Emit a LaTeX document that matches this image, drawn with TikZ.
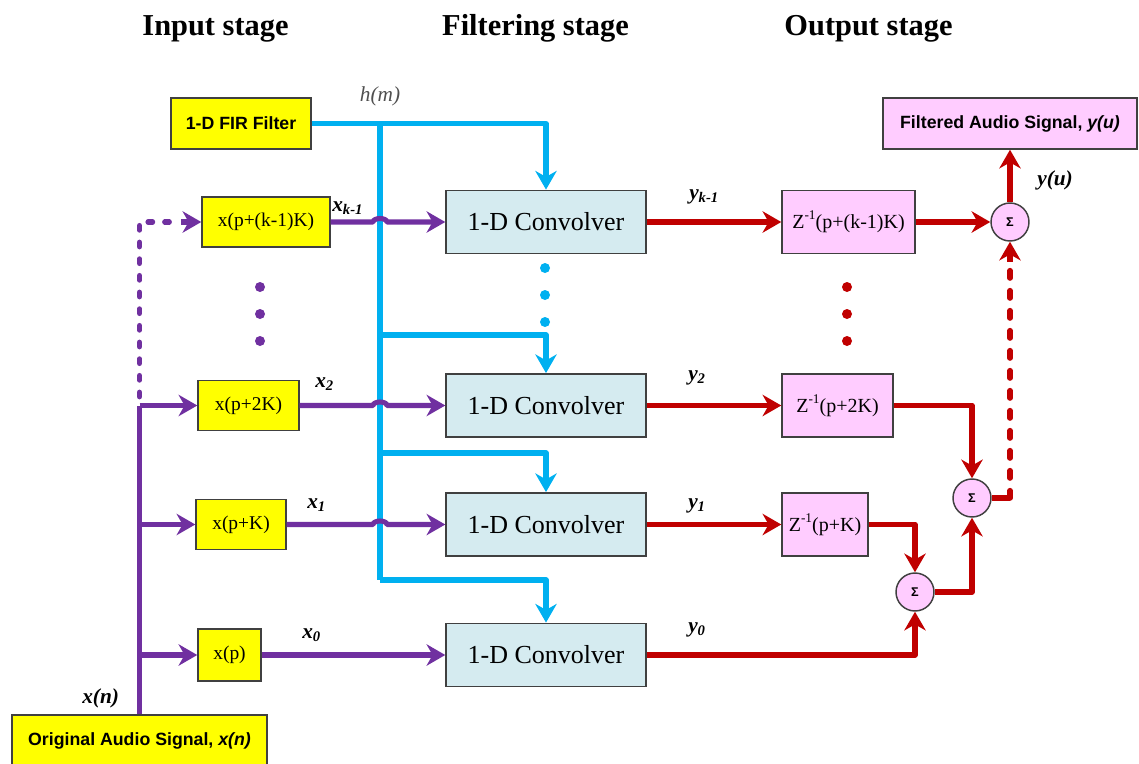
\documentclass[tikz,border=0pt]{standalone}
\usepackage{fontspec}
\setmainfont{Liberation Serif}
\setsansfont{Liberation Sans}
\usetikzlibrary{arrows.meta}

\definecolor{boxyellow}{HTML}{FFFF00}
\definecolor{convblue}{HTML}{D5EBF0}
\definecolor{zpink}{HTML}{FFCCFF}
\definecolor{hblue}{HTML}{00B0F0}
\definecolor{xpurple}{HTML}{7030A0}
\definecolor{yred}{HTML}{C00000}
\definecolor{edge}{HTML}{404040}
\definecolor{hgray}{HTML}{505050}

\newcommand{\fs}[1]{\fontsize{#1pt}{#1pt}\selectfont}
\newcommand{\lowtext}[1]{\raisebox{-0.35ex}{\fs{11}#1}}
\newcommand{\hightext}[1]{\raisebox{1.0ex}{\fs{10}#1}}

\begin{document}
\begin{tikzpicture}[x=0.75pt,y=-0.75pt,
  box/.style={draw=edge, line width=1.1pt, inner sep=0pt, align=center},
  ybox/.style={box, fill=boxyellow},
  cbox/.style={box, fill=convblue, minimum width=150pt, minimum height=47.5pt, font=\fs{19.5}},
  zbox/.style={box, fill=zpink, minimum height=47.5pt, font=\fs{15}},
  inbox/.style={ybox, minimum height=37.5pt, font=\fs{14.6}},
  sumnode/.style={circle, draw=edge, line width=1.1pt, fill=zpink, minimum size=28.5pt, inner sep=0pt, font=\sffamily\bfseries\fs{9.5}},
  title/.style={font=\bfseries\fs{22.8}, anchor=base},
  lbl/.style={font=\bfseries\itshape\fs{16}, anchor=base west, inner sep=0pt},
  tip/.style={-{Stealth[length=14pt, width=16pt, inset=4.5pt]}},
  hline/.style={draw=hblue, line width=3.8pt, line join=round},
  pline/.style={draw=xpurple, line width=3.8pt, line join=round},
  rline/.style={draw=yred, line width=4.2pt, line join=round},
  pdashline/.style={dash pattern=on 3.5pt off 9pt, line cap=round},
  rdashline/.style={dash pattern=on 5.5pt off 9.5pt, line cap=round},
  dotnode/.style={circle, inner sep=0pt, minimum size=7.5pt}
]
\useasboundingbox (0,0) rectangle (1139,764);

% stage headings
\node[title] (tin)  at (215.5,35) {Input stage};
\node[title] (tflt) at (535.5,35) {Filtering stage};
\node[title] (tout) at (868.5,35) {Output stage};

% input stage boxes
\node[ybox, minimum width=105pt, minimum height=38.25pt, font=\sffamily\bfseries\fs{13.3}] (fir) at (241,123.5) {1-D FIR Filter};
\node[inbox, minimum width=96pt]    (inK) at (266,222)   {x(p+(k-1)K)};
\node[inbox, minimum width=75.75pt] (in2) at (248.5,405.5) {x(p+2K)};
\node[inbox, minimum width=67.5pt]  (in1) at (241,524.5) {x(p+K)};
\node[inbox, minimum width=47.25pt, minimum height=39pt] (in0) at (229.5,655) {x(p)};
\node[ybox, minimum width=191.25pt, minimum height=38.25pt, font=\sffamily\bfseries\fs{13.3}] (orig) at (139.5,740.5) {Original Audio Signal, \textit{x(n)}};

% convolvers
\node[cbox] (cvK) at (546,222)   {1-D Convolver};
\node[cbox] (cv2) at (546,405.5) {1-D Convolver};
\node[cbox] (cv1) at (546,524.5) {1-D Convolver};
\node[cbox] (cv0) at (546,655)   {1-D Convolver};

% delays, adders, output
\node[zbox, minimum width=99.75pt] (zK) at (848.5,222)   {Z\hightext{-1}(p+(k-1)K)};
\node[zbox, minimum width=83.25pt] (z2) at (837.5,405.5) {Z\hightext{-1}(p+2K)};
\node[zbox, minimum width=64.5pt]  (z1) at (825,524.5)   {Z\hightext{-1}(p+K)};
\node[sumnode] (sT) at (1010,222) {Σ};
\node[sumnode] (sM) at (972,498)  {Σ};
\node[sumnode] (sB) at (915,592)  {Σ};
\node[box, fill=zpink, minimum width=190.5pt, minimum height=38.25pt, font=\sffamily\bfseries\fs{13.3}] (filt) at (1010,123.5) {Filtered Audio Signal, \textit{y(u)}};

% filter coefficients h(m)
\coordinate (h2) at (380,335);
\coordinate (h1) at (380,453);
\coordinate (h0) at (380,580);
\draw[hline, tip] (fir.east) -| (cvK.north);
\draw[hline] (fir.east -| h0) -- (h0);
\draw[hline, tip] (h0) -| (cv0.north);
\draw[hline, tip] (h2) -| (cv2.north);
\draw[hline, tip] (h1) -| (cv1.north);

% input signal distribution
\coordinate (xb2) at (orig.north |- in2.west);
\coordinate (xb1) at (orig.north |- in1.west);
\coordinate (xb0) at (orig.north |- in0.west);
\coordinate (xbK) at (orig.north |- inK.west);
\draw[pline] (orig.north) -- (xb2);
\draw[pline, pdashline] ([yshift=-6pt]xb2) -- (xbK) -- ([xshift=-16pt]inK.west);
\draw[pline, tip] ([xshift=-15pt]inK.west) -- (inK.west);
\draw[pline, tip] (xb2) -- (in2.west);
\draw[pline, tip] (xb1) -- (in1.west);
\draw[pline, tip] (xb0) -- (in0.west);

% sample streams into the convolvers (small hop over the h(m) bus)
\draw[pline, tip] (inK.east) -- (373,222) arc[start angle=180, end angle=360, x radius=7, y radius=3.5] -- (cvK.west);
\draw[pline, tip] (in2.east) -- (373,405.5) arc[start angle=180, end angle=360, x radius=7, y radius=3.5] -- (cv2.west);
\draw[pline, tip] (in1.east) -- (373,524.5) arc[start angle=180, end angle=360, x radius=7, y radius=3.5] -- (cv1.west);
\draw[pline, tip] (in0.east) -- (cv0.west);

% output stage
\draw[rline, tip] (cvK.east) -- (zK.west);
\draw[rline, tip] (zK.east) -- (sT.west);
\draw[rline, tip] (sT.north) -- (filt.south);
\draw[rline, tip] (cv2.east) -- (z2.west);
\draw[rline, tip] (z2.east) -| (sM.north);
\draw[rline, tip] (cv1.east) -- (z1.west);
\draw[rline, tip] (z1.east) -| (sB.north);
\draw[rline, tip] (cv0.east) -| (sB.south);
\draw[rline, tip] (sB.east) -| (sM.south);
\coordinate (sMr) at (sM.east -| sT.south);
\draw[rline] (sM.east) -- (sMr);
\draw[rline, rdashline] (sMr) -- ([yshift=-18pt]sT.south);
\draw[rline, tip] ([yshift=-15pt]sT.south) -- (sT.south);

% ellipsis dots
\foreach \yy [count=\i] in {287,314,341} {
  \node[dotnode, fill=xpurple] (pd\i) at (260,\yy) {};
  \node[dotnode, fill=yred]    (rd\i) at (847,\yy) {};
}
\foreach \yy [count=\i] in {268,295,322} {
  \node[dotnode, fill=hblue] (bd\i) at (545,\yy) {};
}

% signal labels
\node[font=\itshape\fs{16}, text=hgray, anchor=base] (lh) at (380,101) {h(m)};
\node[lbl] (lxK) at (332,211) {x\lowtext{k-1}};
\node[lbl] (lx2) at (315,387) {x\lowtext{2}};
\node[lbl] (lx1) at (307,508) {x\lowtext{1}};
\node[lbl] (lx0) at (302,638) {x\lowtext{0}};
\node[lbl] (lxn) at (82,703)  {x(n)};
\node[lbl] (lyK) at (689,199) {y\lowtext{k-1}};
\node[lbl] (ly2) at (688,380) {y\lowtext{2}};
\node[lbl] (ly1) at (688,508) {y\lowtext{1}};
\node[lbl] (ly0) at (688,632) {y\lowtext{0}};
\node[lbl] (lyu) at (1037,185) {y(u)};
\end{tikzpicture}
\end{document}
